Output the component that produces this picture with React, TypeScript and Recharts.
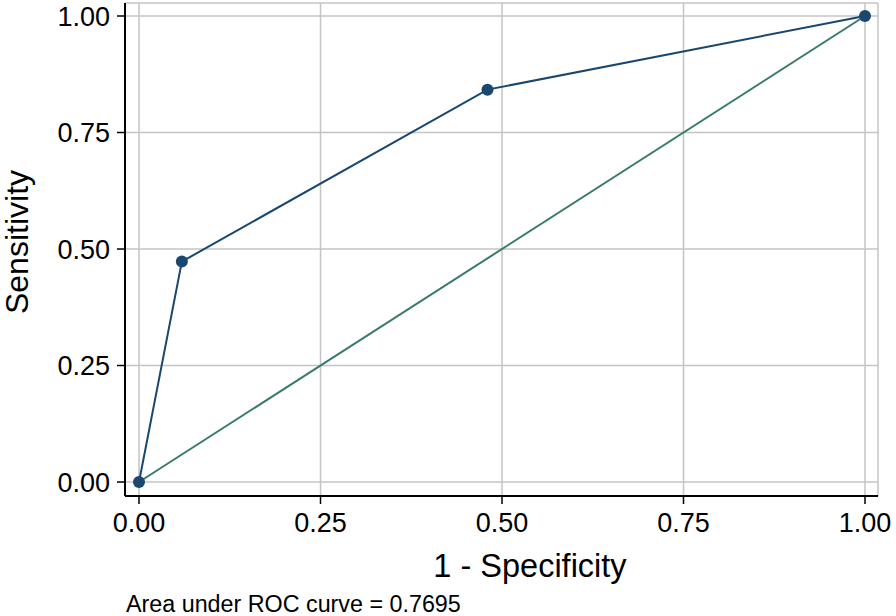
import { LineChart, Line, XAxis, YAxis, CartesianGrid, Label } from 'recharts';

// ROC points
const falsePosRate = [0, 0.059, 0.48, 1];
const sensitivity = [0, 0.473, 0.842, 1];
const refX = [0, 1];
const refY = [0, 1];
const axisTicks = [0, 0.25, 0.5, 0.75, 1];
const aucText = 'Area under ROC curve = 0.7695';

const FONT = '"Liberation Sans", Arial, Helvetica, sans-serif';
const NAVY = '#1a476f';
const TEAL = '#3a7a6c';

const rocData = falsePosRate.map((x, i) => ({ x, y: sensitivity[i] }));
const refData = refX.map((x, i) => ({ x, y: refY[i] }));

export default function App() {
  return (
    <div style={{ position: 'absolute', left: 0, top: 0, width: 896, height: 616, background: '#fff' }}>
      <LineChart width={896} height={616} margin={{ top: 3, right: 18, left: 0, bottom: 0 }}>
        <CartesianGrid stroke="#c4c4c4" strokeWidth={1.5} />
        <XAxis
          type="number"
          dataKey="x"
          domain={[-0.0193, 1.0179]}
          ticks={axisTicks}
          tickFormatter={(v: number) => v.toFixed(2)}
          height={120}
          tickSize={8}
          tickMargin={9}
          axisLine={{ stroke: '#000', strokeWidth: 2 }}
          tickLine={{ stroke: '#000', strokeWidth: 1.5 }}
          tick={{ fill: '#000', fontSize: 27, fontFamily: FONT }}
        >
          <Label
            content={() => (
              <text x={530} y={577} textAnchor="middle" fill="#000" fontSize={32.5} fontFamily={FONT}>
                1 - Specificity
              </text>
            )}
          />
          <Label
            content={() => (
              <text x={126} y={612} textAnchor="start" fill="#000" fontSize={23.3} fontFamily={FONT}>
                {aucText}
              </text>
            )}
          />
        </XAxis>
        <YAxis
          type="number"
          dataKey="y"
          domain={[-0.03, 1.0279]}
          ticks={axisTicks}
          tickFormatter={(v: number) => v.toFixed(2)}
          width={125}
          tickSize={8}
          tickMargin={7}
          axisLine={{ stroke: '#000', strokeWidth: 2 }}
          tickLine={{ stroke: '#000', strokeWidth: 1.5 }}
          tick={{ fill: '#000', fontSize: 27, fontFamily: FONT }}
        >
          <Label
            content={() => (
              <text
                x={28}
                y={242}
                transform="rotate(-90, 28, 242)"
                textAnchor="middle"
                fill="#000"
                fontSize={32}
                fontFamily={FONT}
              >
                Sensitivity
              </text>
            )}
          />
        </YAxis>
        <Line
          data={refData}
          dataKey="y"
          stroke={TEAL}
          strokeWidth={2}
          dot={false}
          isAnimationActive={false}
        />
        <Line
          data={rocData}
          dataKey="y"
          stroke={NAVY}
          strokeWidth={2}
          dot={{ r: 6, fill: NAVY, stroke: 'none' }}
          isAnimationActive={false}
        />
      </LineChart>
    </div>
  );
}
